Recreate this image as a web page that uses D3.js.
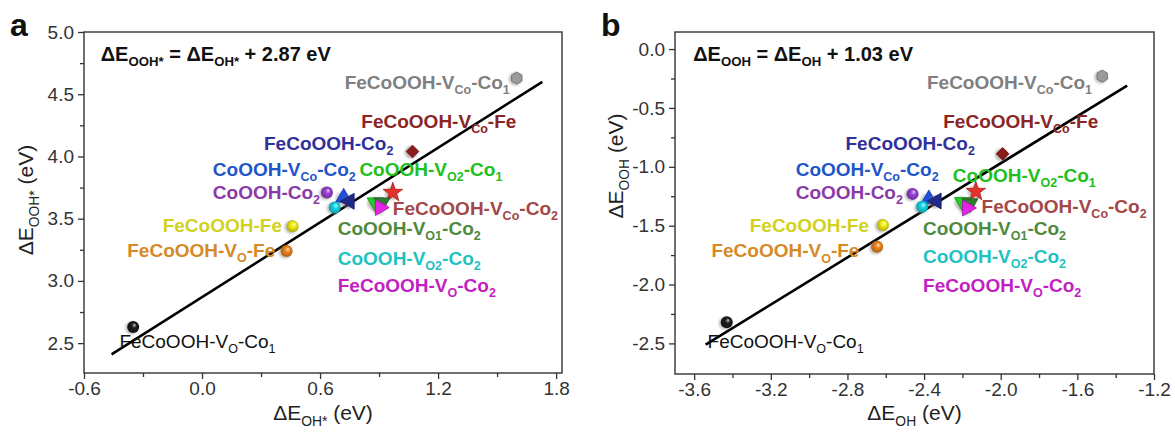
<!DOCTYPE html>
<html>
<head>
<meta charset="utf-8">
<script src="https://cdn.jsdelivr.net/npm/d3@7/dist/d3.min.js"></script>
<style>
  body { margin: 0; background: #fff; }
  text { font-family: "Liberation Sans", Arial, sans-serif; white-space: pre; }
</style>
</head>
<body>
<div id="chart"></div>
<script>
// Scaling relation OOH* vs OH* for the FeCoOOH / CoOOH sites

// label text split in [text, isSubscript] parts
const catalystLabels = [
  [['FeCoOOH-V', 0], ['O', 1], ['-Co', 0], ['1', 1]],
  [['FeCoOOH-V', 0], ['Co', 1], ['-Co', 0], ['1', 1]],
  [['FeCoOOH-V', 0], ['Co', 1], ['-Fe', 0]],
  [['FeCoOOH-V', 0], ['Co', 1], ['-Co', 0], ['2', 1]],
  [['CoOOH-Co', 0], ['2', 1]],
  [['CoOOH-V', 0], ['Co', 1], ['-Co', 0], ['2', 1]],
  [['FeCoOOH-Co', 0], ['2', 1]],
  [['CoOOH-V', 0], ['O2', 1], ['-Co', 0], ['2', 1]],
  [['CoOOH-V', 0], ['O2', 1], ['-Co', 0], ['1', 1]],
  [['CoOOH-V', 0], ['O1', 1], ['-Co', 0], ['2', 1]],
  [['FeCoOOH-V', 0], ['O', 1], ['-Co', 0], ['2', 1]],
  [['FeCoOOH-Fe', 0]],
  [['FeCoOOH-V', 0], ['O', 1], ['-Fe', 0]]
];

// panel a: ΔE_OH* / ΔE_OOH* (eV)
const ohA  = [-0.35, 1.60, 1.07, 0.97, 0.635, 0.72, 0.75, 0.675, 0.88, 0.915, 0.905, 0.46, 0.43];
const oohA = [2.63, 4.63, 4.04, 3.71, 3.71, 3.67, 3.64, 3.59, 3.63, 3.63, 3.59, 3.44, 3.24];
// panel b: ΔE_OH / ΔE_OOH (eV)
const ohB  = [-3.43, -1.47, -1.99, -2.13, -2.46, -2.375, -2.335, -2.41, -2.20, -2.16, -2.175, -2.615, -2.645];
const oohB = [-2.32, -0.23, -0.89, -1.21, -1.23, -1.275, -1.29, -1.34, -1.30, -1.31, -1.35, -1.495, -1.68];

const fitInterceptA = 2.87;
const fitRangeA = [-0.46, 1.73];
const fitInterceptB = 1.03;
const fitRangeB = [-3.54, -1.34];

const xTicksA = [-0.6, 0.0, 0.6, 1.2, 1.8];
const xMinorA = [-0.3, 0.3, 0.9, 1.5];
const yTicksA = [2.5, 3.0, 3.5, 4.0, 4.5, 5.0];
const yMinorA = [2.75, 3.25, 3.75, 4.25, 4.75];
const xTicksB = [-3.6, -3.2, -2.8, -2.4, -2.0, -1.6, -1.2];
const xMinorB = [-3.4, -3.0, -2.6, -2.2, -1.8, -1.4];
const yTicksB = [0.0, -0.5, -1.0, -1.5, -2.0, -2.5];
const yMinorB = [-0.25, -0.75, -1.25, -1.75, -2.25];

// marker look and label placement (data units of each panel)
const markerShapes = ['sphere', 'hexagon', 'diamond', 'star', 'sphere', 'triUp', 'triLeft',
  'sphere', 'triDown', 'triDown2', 'triRight', 'sphere', 'sphere'];
const markerColors = ['#1a1a1a', '#9a9a9a', '#8e1b1b', '#e8302a', '#9b3fd6', '#1d4fe0', '#1f2a8a',
  '#12d6e6', '#22d022', '#2f7d2f', '#e524e5', '#f2ee10', '#f0841e'];
const labelColors = ['#111111', '#7f7f7f', '#8b2525', '#a34747', '#8a3aa8', '#1f55c8', '#30309a',
  '#1fc2c2', '#20c020', '#4f8a3c', '#c21fc2', '#d2d21e', '#d58a26'];
const labelPosA = [[-0.42, 2.46], [0.725, 4.54], [0.81, 4.23], [0.97, 3.53], [0.055, 3.66], [0.055, 3.845],
  [0.315, 4.05], [0.69, 3.13], [0.80, 3.845], [0.69, 3.37], [0.69, 2.91], [-0.20, 3.39], [-0.38, 3.19]];
const labelPosB = [[-3.53, -2.54], [-2.385, -0.34], [-2.30, -0.67], [-2.10, -1.39], [-3.07, -1.27], [-3.07, -1.075],
  [-2.81, -0.857], [-2.405, -1.82], [-2.25, -1.125], [-2.405, -1.58], [-2.405, -2.065], [-3.31, -1.555], [-3.51, -1.77]];

const panels = [
  {
    letter: 'a', left: 84, top: 32, width: 478, height: 341,
    xDomain: [-0.6, 1.83], yDomain: [2.26, 5.0],
    xs: ohA, ys: oohA, labelPos: labelPosA,
    xTicks: xTicksA, xMinor: xMinorA, yTicks: yTicksA, yMinor: yMinorA,
    fitIntercept: fitInterceptA, fitRange: fitRangeA,
    equation: [['ΔE', 0], ['OOH*', 1], [' = ΔE', 0], ['OH*', 1], [' + 2.87 eV', 0]],
    equationAt: [-0.515, 4.77],
    xTitle: [['ΔE', 0], ['OH*', 1], [' (eV)', 0]],
    yTitle: [['ΔE', 0], ['OOH*', 1], [' (eV)', 0]],
    yTitleX: 33, yTitleY: 200
  },
  {
    letter: 'b', left: 675, top: 32, width: 479, height: 342,
    xDomain: [-3.7, -1.2], yDomain: [-2.76, 0.145],
    xs: ohB, ys: oohB, labelPos: labelPosB,
    xTicks: xTicksB, xMinor: xMinorB, yTicks: yTicksB, yMinor: yMinorB,
    fitIntercept: fitInterceptB, fitRange: fitRangeB,
    equation: [['ΔE', 0], ['OOH', 1], [' = ΔE', 0], ['OH', 1], [' + 1.03 eV', 0]],
    equationAt: [-3.605, -0.10],
    xTitle: [['ΔE', 0], ['OH', 1], [' (eV)', 0]],
    yTitle: [['ΔE', 0], ['OOH', 1], [' (eV)', 0]],
    yTitleX: 623, yTitleY: 166
  }
];

const width = 1175;
const height = 438;

const svg = d3.select('#chart').append('svg')
  .attr('width', width)
  .attr('height', height)
  .style('display', 'block');

const defs = svg.append('defs');
defs.append('filter').attr('id', 'soft')
  .attr('x', '-50%').attr('y', '-50%').attr('width', '200%').attr('height', '200%')
  .append('feGaussianBlur').attr('stdDeviation', 1.3);

markerColors.forEach((c, i) => {
  const grad = defs.append('radialGradient')
    .attr('id', 'sph' + i)
    .attr('cx', '50%').attr('cy', '50%').attr('r', '60%')
    .attr('fx', '62%').attr('fy', '32%');
  grad.append('stop').attr('offset', '0%').attr('stop-color', d3.interpolateRgb(c, '#fff')(0.75));
  grad.append('stop').attr('offset', '35%').attr('stop-color', c);
  grad.append('stop').attr('offset', '100%').attr('stop-color', d3.interpolateRgb(c, '#000')(0.35));
});

const hexagon = {
  draw(context, size) {
    const r = Math.sqrt(size / 2.598);
    for (let k = 0; k < 6; k++) {
      const a = Math.PI / 6 + k * Math.PI / 3;
      if (k === 0) context.moveTo(r * Math.cos(a), r * Math.sin(a));
      else context.lineTo(r * Math.cos(a), r * Math.sin(a));
    }
    context.closePath();
  }
};

function richText(sel, parts, size) {
  parts.forEach(([t, sub], i) => {
    const prev = i > 0 ? parts[i - 1][1] : 0;
    sel.append('tspan')
      .attr('font-size', sub ? size * 0.66 : size)
      .attr('dy', (sub - prev) * size * 0.27)
      .text(t);
  });
}

function drawMarker(g, shape, color, i, px, py) {
  // soft grey halo like the rendered 3D markers
  g.append('circle')
    .attr('cx', px - 1.5).attr('cy', py + 1)
    .attr('r', 6.5)
    .attr('fill', '#777')
    .attr('opacity', 0.45)
    .attr('filter', 'url(#soft)');

  if (shape === 'sphere') {
    g.append('circle').attr('cx', px).attr('cy', py).attr('r', 6)
      .attr('fill', `url(#sph${i})`);
    return;
  }
  const edge = d3.interpolateRgb(color, '#000')(0.3);
  if (shape === 'diamond') {
    g.append('path')
      .attr('d', d3.symbol().type(d3.symbolSquare).size(80)())
      .attr('transform', `translate(${px},${py}) rotate(45)`)
      .attr('fill', color)
      .attr('stroke', edge)
      .attr('stroke-width', 0.8);
    return;
  }
  let type = d3.symbolTriangle;
  let size = 110;
  let rot = 0;
  if (shape === 'hexagon') { type = hexagon; size = 95; }
  if (shape === 'star') { type = d3.symbolStar; size = 120; }
  if (shape === 'triDown' || shape === 'triDown2') rot = 180;
  if (shape === 'triLeft') rot = -90;
  if (shape === 'triRight') rot = 90;
  g.append('path')
    .attr('d', d3.symbol().type(type).size(size)())
    .attr('transform', `translate(${px},${py}) rotate(${rot})`)
    .attr('fill', color)
    .attr('stroke', edge)
    .attr('stroke-width', 0.8);
}

function drawPanel(p) {
  const x = d3.scaleLinear().domain(p.xDomain).range([0, p.width]);
  const y = d3.scaleLinear().domain(p.yDomain).range([p.height, 0]);
  const g = svg.append('g').attr('transform', `translate(${p.left},${p.top})`);
  const fmt = d => d.toFixed(1);

  // major / minor ticks, outward
  const xAxis = g.append('g').attr('transform', `translate(0,${p.height})`)
    .call(d3.axisBottom(x).tickValues(p.xTicks).tickSize(6).tickPadding(3).tickFormat(fmt));
  g.append('g').attr('transform', `translate(0,${p.height})`)
    .call(d3.axisBottom(x).tickValues(p.xMinor).tickSize(4).tickFormat(''));
  const yAxis = g.append('g')
    .call(d3.axisLeft(y).tickValues(p.yTicks).tickSize(6).tickPadding(4).tickFormat(fmt));
  g.append('g')
    .call(d3.axisLeft(y).tickValues(p.yMinor).tickSize(4).tickFormat(''));

  g.selectAll('.domain').remove();
  g.selectAll('.tick line').attr('stroke', '#333').attr('stroke-width', 1.3);
  [xAxis, yAxis].forEach(a => a.selectAll('text')
    .attr('font-size', 19)
    .attr('fill', '#333')
    .attr('font-family', '"Liberation Sans", Arial, sans-serif'));

  g.append('rect')
    .attr('width', p.width).attr('height', p.height)
    .attr('fill', 'none').attr('stroke', '#333').attr('stroke-width', 1.4);

  // fitted line
  g.append('line')
    .attr('x1', x(p.fitRange[0])).attr('y1', y(p.fitRange[0] + p.fitIntercept))
    .attr('x2', x(p.fitRange[1])).attr('y2', y(p.fitRange[1] + p.fitIntercept))
    .attr('stroke', '#000').attr('stroke-width', 2.6);

  const marks = g.append('g');
  p.xs.forEach((v, i) => {
    drawMarker(marks, markerShapes[i], markerColors[i], i, x(v), y(p.ys[i]));
  });

  catalystLabels.forEach((parts, i) => {
    const t = g.append('text')
      .attr('x', x(p.labelPos[i][0]))
      .attr('y', y(p.labelPos[i][1]))
      .attr('fill', labelColors[i])
      .attr('font-weight', i === 0 ? 'normal' : 'bold');
    richText(t, parts, 19);
  });

  const eq = g.append('text')
    .attr('x', x(p.equationAt[0]))
    .attr('y', y(p.equationAt[1]))
    .attr('fill', '#111')
    .attr('font-weight', 'bold');
  richText(eq, p.equation, 20);

  const xt = svg.append('text')
    .attr('x', p.left + p.width / 2)
    .attr('y', 420)
    .attr('text-anchor', 'middle')
    .attr('fill', '#222');
  richText(xt, p.xTitle, 21);

  const yt = svg.append('text')
    .attr('transform', `translate(${p.yTitleX},${p.yTitleY}) rotate(-90)`)
    .attr('text-anchor', 'middle')
    .attr('fill', '#222');
  richText(yt, p.yTitle, 21);

  svg.append('text')
    .attr('x', p.left - 74)
    .attr('y', 36)
    .attr('font-size', 32)
    .attr('font-weight', 'bold')
    .attr('fill', '#111')
    .text(p.letter);
}

panels.forEach(drawPanel);
</script>
</body>
</html>
